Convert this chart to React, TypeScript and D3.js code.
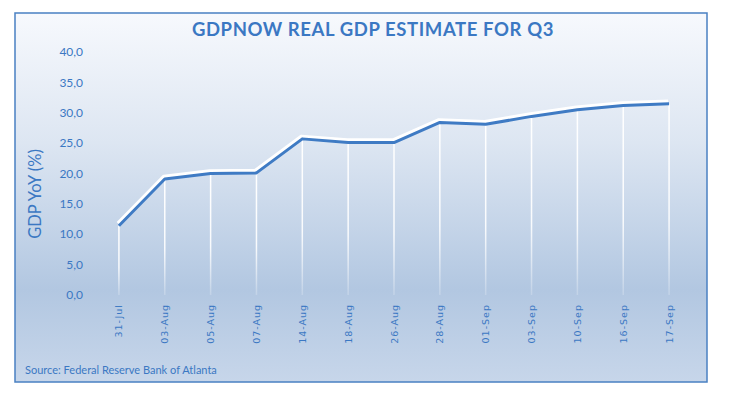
import React from 'react';
import * as d3 from 'd3';

const width = 730;
const height = 399;
const margin = {top: 52, right: 38, bottom: 104, left: 96};
const blue = '#3b78c3';
const lineBlue = '#3f7bc4';

const dates = ['31-Jul', '03-Aug', '05-Aug', '07-Aug', '14-Aug', '18-Aug', '26-Aug',
    '28-Aug', '01-Sep', '03-Sep', '10-Sep', '16-Sep', '17-Sep'];
const gdpValues = [11.4, 19.1, 20.0, 20.1, 25.7, 25.1, 25.1, 28.4, 28.1, 29.4, 30.5, 31.2, 31.5];
const yTicks = [0, 5, 10, 15, 20, 25, 30, 35, 40];

const fmt = (d: number) => d.toFixed(1).replace('.', ',');

export default function App() {
    const x = d3.scaleBand<string>().domain(dates).range([margin.left, width - margin.right]);
    const y = d3.scaleLinear().domain([0, 40]).range([height - margin.bottom, margin.top]);
    const cx = (d: string) => (x(d) as number) + x.bandwidth() / 2;

    const line = d3.line<number>()
        .x((_, i) => cx(dates[i]))
        .y(d => y(d));
    const path = line(gdpValues) || '';

    return (
        <div style={{position: 'fixed', left: 0, top: 0}}>
            <svg width={width} height={height} style={{display: 'block', fontFamily: 'Lato, "Open Sans", sans-serif'}}>
                <defs>
                    <linearGradient id='bg' x1='0' y1='0' x2='0' y2='1'>
                        <stop offset='0' stopColor='#f7f9fd'/>
                        <stop offset='0.35' stopColor='#dde6f2'/>
                        <stop offset='0.75' stopColor='#b2c7e1'/>
                        <stop offset='1' stopColor='#c7d6ea'/>
                    </linearGradient>
                    <linearGradient id='drop' x1='0' y1='0' x2='0' y2='1'>
                        <stop offset='0' stopColor='#ffffff' stopOpacity='1'/>
                        <stop offset='0.6' stopColor='#ffffff' stopOpacity='0.9'/>
                        <stop offset='1' stopColor='#ffffff' stopOpacity='0.2'/>
                    </linearGradient>
                </defs>
                <rect x={15} y={13} width={692} height={369} fill='url(#bg)' stroke='#4a80c2' strokeWidth={1.5}/>

                <text x={373} y={36} textAnchor='middle' fill={blue} fontSize={18.5} fontWeight='bold'
                      letterSpacing={0.6}>GDPNOW REAL GDP ESTIMATE FOR Q3</text>

                {yTicks.map(t => (
                    <text key={t} x={83} y={y(t)} dy='0.35em' textAnchor='end' fill={blue} fontSize={12}>{fmt(t)}</text>
                ))}

                <text transform={`translate(41, ${194}) rotate(-90)`} textAnchor='middle' fill={blue}
                      fontSize={16.5}>GDP YoY (%)</text>

                {dates.map((d, i) => (
                    <rect key={'r' + d} x={cx(d) - 0.75} y={y(gdpValues[i])} width={1.5}
                          height={y(0) - y(gdpValues[i])} fill='url(#drop)'/>
                ))}

                <path d={path} fill='none' stroke='#ffffff' strokeWidth={3.5} transform='translate(-1,-2.5)'
                      strokeLinejoin='round'/>
                <path d={path} fill='none' stroke={lineBlue} strokeWidth={3} strokeLinejoin='round'/>

                {dates.map(d => (
                    <text key={'l' + d} transform={`translate(${cx(d) + 3.5}, 304) rotate(-90)`} textAnchor='end'
                          fill={blue} fontSize={9.5} letterSpacing={1}
                          fontFamily='"DejaVu Sans", sans-serif'>{d}</text>
                ))}

                <text x={25} y={374} fill={blue} fontSize={11}>Source: Federal Reserve Bank of Atlanta</text>
            </svg>
        </div>
    );
}
